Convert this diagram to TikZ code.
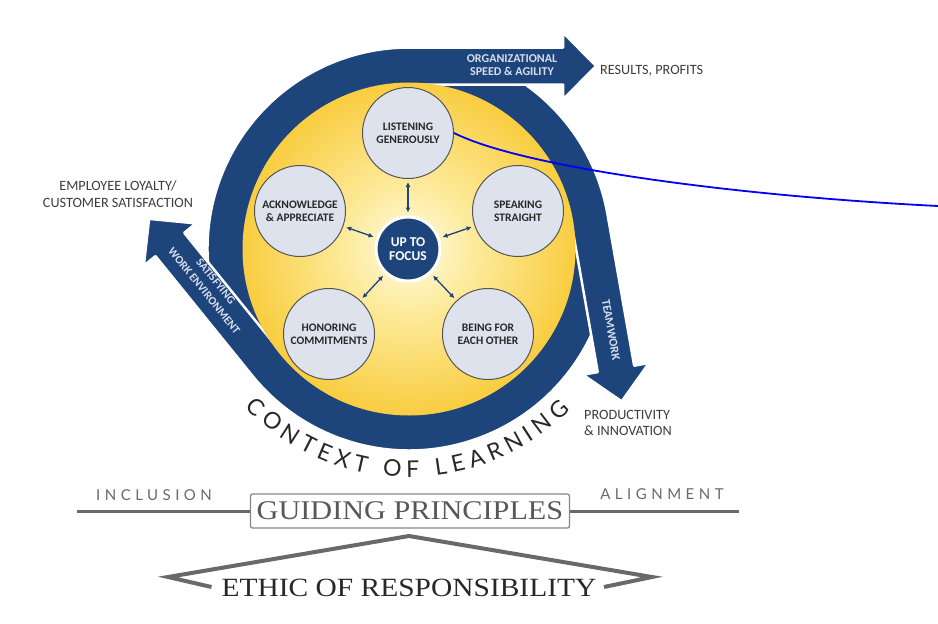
\documentclass[tikz,border=0pt]{standalone}
\usepackage{fontspec}
\setmainfont{Liberation Serif}
\newfontfamily\wideserif[FakeStretch=1.12]{Liberation Serif}
\newfontfamily\labelfont{Carlito}
\newfontfamily\arcfont{Lato}
\newfontfamily\spacedfont[LetterSpace=30]{Lato}
\usetikzlibrary{arrows.meta, calc, decorations.text}

\definecolor{ringblue}{RGB}{30, 68, 124}
\definecolor{shafttext}{RGB}{214, 222, 236}
\definecolor{petalfill}{RGB}{221, 226, 236}
\definecolor{petalline}{RGB}{85, 85, 85}
\definecolor{darktext}{RGB}{40, 40, 40}
\definecolor{labelgrey}{RGB}{60, 60, 60}
\definecolor{rulegrey}{RGB}{105, 105, 105}
\definecolor{boxgrey}{RGB}{135, 135, 135}
\definecolor{principletext}{RGB}{88, 88, 88}
\definecolor{linkblue}{RGB}{0, 0, 245}
\definecolor{glowA}{RGB}{255, 250, 230}
\definecolor{glowB}{RGB}{253, 236, 160}
\definecolor{glowC}{RGB}{248, 201, 52}
\definecolor{glowD}{RGB}{240, 170, 35}
\definecolor{glowE}{RGB}{225, 145, 28}
\pgfdeclareradialshading{discglow}{\pgfpoint{0bp}{0bp}}{%
  color(0bp)=(glowA); color(9bp)=(glowB); color(27bp)=(glowC);
  color(43bp)=(glowD); color(50bp)=(glowE)}

% ring geometry
\def\ringR{183}\def\ringO{201.5}\def\ringI{164.5}
\def\headH{33.5}\def\headL{33}\def\shaftL{154}
\newcommand\bandarrow[2]{% tail angle, peel-off angle
  \fill[band] ($(hub)+(#1:\ringO)$) arc[start angle=#1, end angle=#2, radius=\ringO]
    -- ($(hub)+(#2:\ringO)+(#2-90:\shaftL)$)
    -- ($(hub)+(#2:\ringR+\headH)+(#2-90:\shaftL)$)
    -- ($(hub)+(#2:\ringR)+(#2-90:\shaftL+\headL)$)
    -- ($(hub)+(#2:\ringR-\headH)+(#2-90:\shaftL)$)
    -- ($(hub)+(#2:\ringI)+(#2-90:\shaftL)$)
    -- ($(hub)+(#2:\ringI)$)
    arc[start angle=#2, end angle=#1, radius=\ringI] -- cycle;}
\newcommand\arcstyle{\arcfont\fontsize{23}{23}\selectfont\color{darktext}}

\begin{document}
\begin{tikzpicture}[x=1pt, y=1pt,
  band/.style={fill=ringblue, draw=white, line width=2.5pt, line join=round},
  petal/.style={circle, minimum size=91pt, inner sep=0pt, fill=petalfill, draw=petalline,
    line width=1pt, align=center, text=darktext, font=\labelfont\bfseries\fontsize{11.5}{13.3}\selectfont},
  focusdisc/.style={circle, minimum size=64pt, inner sep=0pt, fill=ringblue, draw=white,
    line width=3pt, align=center, text=white, font=\labelfont\bfseries\fontsize{13.5}{14.4}\selectfont},
  dblarrow/.style={{Latex[length=5pt,width=5pt]}-{Latex[length=5pt,width=5pt]}, ringblue,
    line width=1.3pt, shorten <=3pt, shorten >=3pt},
  shaftlabel/.style={align=center, text=shafttext, inner sep=0pt,
    font=\labelfont\bfseries\fontsize{12}{13.4}\selectfont},
  outlabel/.style={text=labelgrey, inner sep=0pt, font=\labelfont\fontsize{14.2}{16.5}\selectfont},
  spaced/.style={text=rulegrey, inner sep=0pt, font=\spacedfont\fontsize{15}{15}\selectfont},
  greyrule/.style={draw=rulegrey, line width=3pt},
  principle/.style={draw=boxgrey, line width=1.3pt, rounded corners=2pt, fill=white,
    minimum width=319pt, minimum height=34pt, inner sep=0pt, text=principletext,
    font=\wideserif\fontsize{27}{27}\selectfont},
  roof/.style={draw=rulegrey, line width=4pt, line join=miter},
  bluelink/.style={draw=linkblue, line width=1.8pt}]

  \useasboundingbox (0,0) rectangle (938,-624);
  \coordinate (hub) at (409,-249);

  % Ring of three arrows
  \bandarrow{20}{-141}
  \bandarrow{110}{10}
  \bandarrow{240}{90}
  \begin{scope}
    \clip (100,-200) rectangle (335,-470);
    \bandarrow{20}{-141}
  \end{scope}

  % Golden disc
  \shade[shading=discglow] (hub) circle[radius=166.5];

  % Labels on the arrows
  \node[shaftlabel] (speed) at (512,-65) {ORGANIZATIONAL\\SPEED \& AGILITY};
  \node[shaftlabel, rotate=-80] (team) at (611,-330) {TEAMWORK};
  \node[shaftlabel, rotate=-51, font=\labelfont\bfseries\fontsize{11.5}{15}\selectfont] (work)
    at (210,-286) {SATISFYING\\WORK ENVIRONMENT};

  % Outcomes
  \node[outlabel, align=center] (loyalty) at (118,-194) {EMPLOYEE LOYALTY/\\CUSTOMER SATISFACTION};
  \node[outlabel, anchor=west] (results) at (600,-71) {RESULTS, PROFITS};
  \node[outlabel, align=left, anchor=west] (product) at (584,-423) {PRODUCTIVITY\\\& INNOVATION};

  % Practices round the focus
  \node[focusdisc] (focus) at (408,-249) {UP TO\\FOCUS};
  \foreach \n/\x/\y/\txt in {listen/408/133/{LISTENING\\GENEROUSLY},
      ack/300/211/{ACKNOWLEDGE\\\& APPRECIATE}, speak/518/211/{SPEAKING\\STRAIGHT},
      honor/329/334/{HONORING\\COMMITMENTS}, being/488/334/{BEING FOR\\EACH OTHER}} {
    \node[petal] (\n) at (\x,-\y) {\txt};
    \draw[dblarrow] (focus) -- (\n);
  }

  % Context of learning
  \path[decorate, decoration={text along path, text={|\arcstyle|CONTEXT OF LEARNING},
    text align={fit to path}}] ($(hub)+(224:228)$) arc[start angle=224, end angle=315, radius=228];

  % Guiding principles
  \coordinate (ruleL) at (77,-511);
  \coordinate (ruleR) at (739,-511);
  \node[principle] (guiding) at (410,-511) {GUIDING PRINCIPLES};
  \draw[greyrule] (ruleL) -- (guiding);
  \draw[greyrule] (guiding) -- (ruleR);
  \node[spaced] (inclusion) at (154,-495) {INCLUSION};
  \node[spaced] (alignment) at (662,-494) {ALIGNMENT};

  % Ethic of responsibility
  \coordinate (roofInL) at (211.5,-587);
  \coordinate (roofL) at (168,-577);
  \coordinate (roofTop) at (409,-536);
  \coordinate (roofR) at (652,-577);
  \coordinate (roofInR) at (604,-587);
  \draw[roof] (roofInL) -- (roofL) -- (roofTop) -- (roofR) -- (roofInR);
  \node[inner sep=0pt, text=darktext, font=\wideserif\fontsize{26.3}{26.3}\selectfont] (ethic) at (409,-588)
    {ETHIC OF RESPONSIBILITY};

  % Link
  \coordinate (linkend) at (938,-206);
  \draw[bluelink] (listen.east) .. controls +(70,-35) and +(-200,10) .. (linkend);
\end{tikzpicture}
\end{document}
